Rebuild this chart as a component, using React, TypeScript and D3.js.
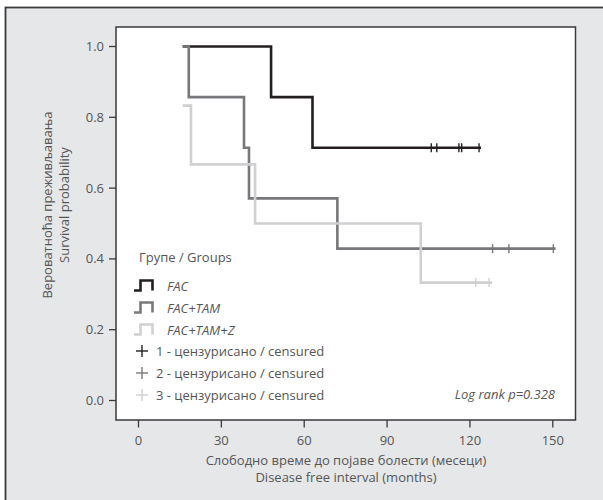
import React from "react";
import * as d3 from "d3";

// Kaplan–Meier step data (months, survival probability)
const facTimes = [16, 48, 63, 124];
const facSurv = [1.0, 0.857, 0.714, 0.714];
const facCensored = [106, 108, 116, 117, 123.3];

const tamTimes = [16, 18.2, 38.2, 40, 72, 151];
const tamSurv = [1.0, 0.857, 0.714, 0.571, 0.429, 0.429];
const tamCensored = [128.2, 134.1, 150.2];

const tamzTimes = [16, 19, 42.2, 102.2, 128];
const tamzSurv = [0.833, 0.667, 0.5, 0.333, 0.333];
const tamzCensored = [122.1, 126.9];

const groupNames = ["FAC", "FAC+TAM", "FAC+TAM+Z"];
const censoredLabels = [
  "1 - цензурисано / censured",
  "2 - цензурисано / censured",
  "3 - цензурисано / censured",
];
const groupColors = ["#231f20", "#77787b", "#cfd0d2"];

const xTicks = [0, 30, 60, 90, 120, 150];
const yTicks = [0, 0.2, 0.4, 0.6, 0.8, 1.0];

const FONT = "'Open Sans', 'Noto Sans', sans-serif";

export default function App() {
  const x = d3.scaleLinear().domain([0, 150]).range([138.5, 552.8]);
  const y = d3.scaleLinear().domain([0, 1]).range([400.5, 46.5]);
  const plot = { left: 116, top: 27, right: 575.5, bottom: 420 };

  const line = d3
    .line<[number, number]>()
    .x((d) => x(d[0]))
    .y((d) => y(d[1]))
    .curve(d3.curveStepAfter);

  const groups = [
    { times: facTimes, surv: facSurv, cens: facCensored },
    { times: tamTimes, surv: tamSurv, cens: tamCensored },
    { times: tamzTimes, surv: tamzSurv, cens: tamzCensored },
  ];

  const survAt = (times: number[], surv: number[], t: number) => {
    let s = surv[0];
    for (let i = 0; i < times.length; i++) if (times[i] <= t) s = surv[i];
    return s;
  };

  const textFill = "#555557";
  const fs = 13;

  return (
    <svg
      width={603}
      height={500}
      style={{ position: "absolute", left: 0, top: 0 }}
      fontFamily={FONT}
    >
      <rect x={0} y={0} width={603} height={500} fill="#ffffff" />
      <rect
        x={5.5}
        y={7.5}
        width={640}
        height={540}
        fill="#e6e7e8"
        stroke="#3a3a3c"
        strokeWidth={1.8}
      />
      <rect
        x={plot.left}
        y={plot.top}
        width={plot.right - plot.left}
        height={plot.bottom - plot.top}
        fill="#ffffff"
        stroke="#3a3a3c"
        strokeWidth={1.5}
      />

      {/* Y axis ticks */}
      {yTicks.map((t) => (
        <g key={"y" + t}>
          <line
            x1={109}
            x2={plot.left}
            y1={y(t)}
            y2={y(t)}
            stroke="#3a3a3c"
            strokeWidth={1.3}
          />
          <text
            x={104}
            y={y(t)}
            dy="0.35em"
            textAnchor="end"
            fontSize={fs}
            fill={textFill}
          >
            {d3.format(".1f")(t)}
          </text>
        </g>
      ))}

      {/* X axis ticks */}
      {xTicks.map((t) => (
        <g key={"x" + t}>
          <line
            x1={x(t)}
            x2={x(t)}
            y1={plot.bottom}
            y2={plot.bottom + 7.5}
            stroke="#3a3a3c"
            strokeWidth={1.3}
          />
          <text
            x={x(t)}
            y={444.5}
            textAnchor="middle"
            fontSize={fs}
            fill={textFill}
          >
            {t}
          </text>
        </g>
      ))}

      {/* Axis titles */}
      <text x={346} y={464.5} textAnchor="middle" fontSize={fs} fill={textFill}>
        Слободно време до појаве болести (месеци)
      </text>
      <text x={346} y={481.5} textAnchor="middle" fontSize={fs} fill={textFill}>
        Disease free interval (months)
      </text>
      <g transform="translate(47,205) rotate(-90)">
        <text x={0} y={4.5} textAnchor="middle" fontSize={fs} fill={textFill}>
          Вероватноћа преживљавања
        </text>
        <text x={0} y={21.5} textAnchor="middle" fontSize={fs} fill={textFill}>
          Survival probability
        </text>
      </g>

      {/* Curves */}
      {groups.map((g, i) => (
        <g key={"g" + i}>
          <path
            d={line(g.times.map((t, j) => [t, g.surv[j]] as [number, number])) || ""}
            fill="none"
            stroke={groupColors[i]}
            strokeWidth={2.6}
          />
          {g.cens.map((c, j) => (
            <line
              key={j}
              x1={x(c)}
              x2={x(c)}
              y1={y(survAt(g.times, g.surv, c)) - 4.5}
              y2={y(survAt(g.times, g.surv, c)) + 4.5}
              stroke={groupColors[i]}
              strokeWidth={1.4}
            />
          ))}
        </g>
      ))}

      {/* Legend */}
      <text x={139} y={262} fontSize={fs} fill={textFill}>
        Групе / Groups
      </text>
      {groupNames.map((n, i) => {
        const cy = 286 + i * 22;
        return (
          <g key={"l" + i}>
            <path
              d={`M134,${cy + 4.5}H140.5V${cy - 5.5}H152.5V${cy + 4.5}`}
              fill="none"
              stroke={groupColors[i]}
              strokeWidth={2.6}
            />
            <text
              x={167}
              y={cy + 5}
              fontSize={fs}
              fontStyle="italic"
              fill={textFill}
            >
              {n}
            </text>
          </g>
        );
      })}
      {censoredLabels.map((n, i) => {
        const cy = 351 + i * 22;
        return (
          <g key={"c" + i}>
            <line x1={136} x2={148} y1={cy} y2={cy} stroke={groupColors[i]} strokeWidth={1.4} />
            <line x1={142} x2={142} y1={cy - 6} y2={cy + 6} stroke={groupColors[i]} strokeWidth={1.4} />
            <text x={156} y={cy + 5} fontSize={fs} fill={textFill}>
              {n}
            </text>
          </g>
        );
      })}

      <text
        x={555}
        y={398.5}
        textAnchor="end"
        fontSize={fs}
        fontStyle="italic"
        fill={textFill}
      >
        Log rank p=0.328
      </text>
    </svg>
  );
}
